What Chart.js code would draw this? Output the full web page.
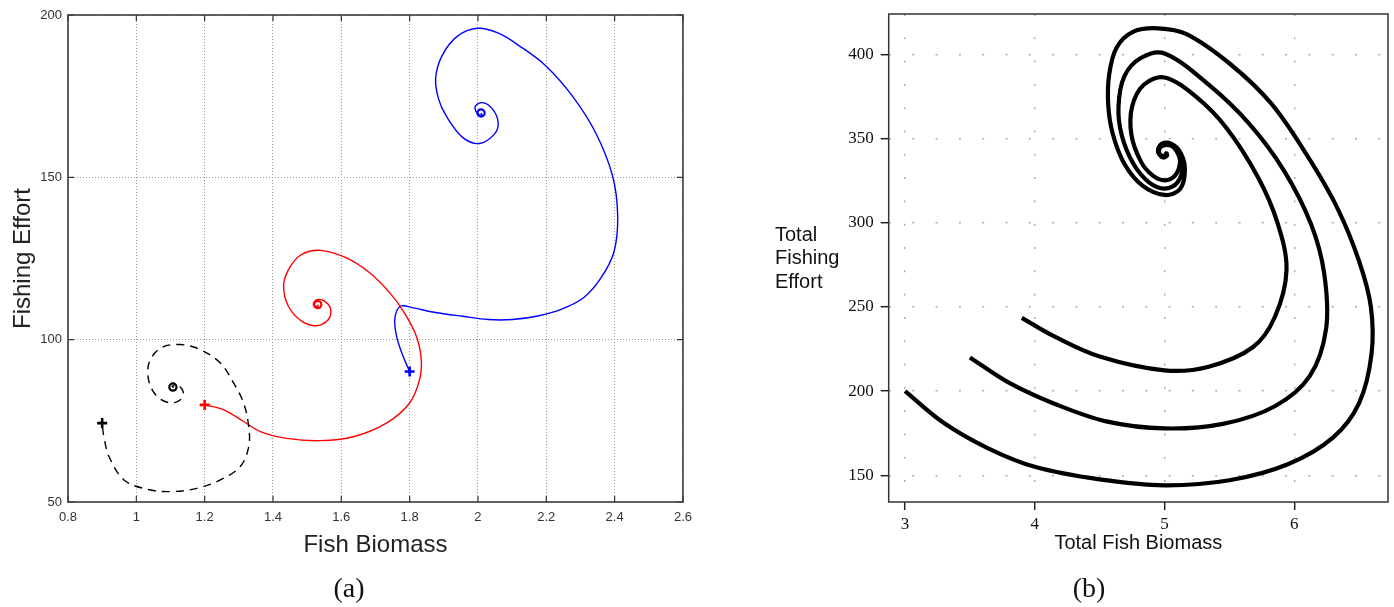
<!DOCTYPE html>
<html>
<head>
<meta charset="utf-8">
<script src="https://cdn.jsdelivr.net/npm/chart.js@4"></script>
<style>
  body { margin: 0; background: #fff; width: 1394px; height: 607px; position: relative; overflow: hidden; }
  .panel { position: absolute; top: 0; height: 607px; }
  #panelA { left: 0; width: 700px; }
  #panelB { left: 700px; width: 694px; }
  .caption { position: absolute; top: 572px; line-height: 32px; font-family: 'Liberation Serif', serif; font-size: 28px; color: #111; transform: translateX(-50%); }
  #yTitleB { position: absolute; left: 775px; top: 223px; font-family: 'Liberation Sans', Arial, sans-serif; font-size: 20px; line-height: 23.3px; color: #111; }
</style>
</head>
<body>
<div class="panel" id="panelA"><canvas id="chartA" width="700" height="607"></canvas></div>
<div class="panel" id="panelB"><canvas id="chartB" width="694" height="607"></canvas></div>
<div class="caption" style="left:349px">(a)</div>
<div class="caption" style="left:1089px">(b)</div>
<div id="yTitleB">Total<br>Fishing<br>Effort</div>
<script>
// --- DADOS: painel (a) ---
const xTicksA = [0.8, 1, 1.2, 1.4, 1.6, 1.8, 2, 2.2, 2.4, 2.6];
const yTicksA = [50, 100, 150, 200];

const blueTraj = [[1.8,90.2],[1.781,94.8],[1.763,100.5],[1.756,105.5],[1.762,108.8],[1.776,110.4],[1.81,109.8],[1.88,108.3],[1.955,107.2],[2.03,106.2],[2.101,106.2],[2.175,107.3],[2.247,109.5],[2.31,113],[2.36,119],[2.398,127],[2.409,138],[2.394,150.4],[2.344,163.8],[2.276,175.1],[2.198,184.4],[2.121,190.5],[2.06,194.4],[1.999,195.9],[1.94,193.5],[1.895,187.5],[1.876,180.5],[1.885,174],[1.907,168.9],[1.955,162.3],[2.004,160.4],[2.048,163.3],[2.059,166.9],[2.043,171],[2.014,173],[1.993,172],[1.996,170],[2.012,169],[2.009,169.8]];
const redTraj = [[1.202,79.9],[1.256,78.4],[1.314,74.8],[1.363,71.7],[1.44,69.6],[1.538,68.9],[1.635,70.1],[1.732,74.3],[1.8,80.5],[1.829,87.7],[1.834,93.8],[1.82,101],[1.785,108.2],[1.742,114.4],[1.683,120.6],[1.615,125.2],[1.538,127.5],[1.48,126],[1.445,121.5],[1.431,116.5],[1.445,110.3],[1.484,105.7],[1.528,104.3],[1.562,106.2],[1.569,109.3],[1.552,111.8],[1.528,112.3],[1.518,110.8],[1.531,110.2],[1.531,110.8]];
const blackTraj = [[0.901,73],[0.906,69.5],[0.92,64],[0.964,56.8],[1.032,53.9],[1.1,53.2],[1.178,54.2],[1.246,56.8],[1.304,60.9],[1.329,67],[1.329,73.2],[1.314,80.5],[1.285,86.6],[1.246,92.8],[1.188,96.9],[1.129,98.5],[1.071,97.4],[1.037,92.8],[1.037,87.1],[1.061,82.5],[1.1,80.5],[1.129,81.5],[1.137,84],[1.12,86.1],[1.105,85.6],[1.11,85.3]];

const startPoints = [[0.9,74.3],[1.2,79.9],[1.8,90.2]];
const endPoints = [[1.107,85.4],[1.531,110.8],[2.009,169.8]];
const markerColors = ['#000000', '#ff0000', '#0000ff'];

// --- DADOS: painel (b) ---
const xTicksB = [3, 4, 5, 6];
const yTicksB = [150, 200, 250, 300, 350, 400];

const trajOuter = [[3.0,200],[3.3,181],[3.64,166],[4.0,155],[4.5,147.5],[5.0,144],[5.5,147],[5.95,156.5],[6.3,172.5],[6.5,193],[6.595,222],[6.59,250],[6.5,277],[6.33,309],[6.09,341],[5.82,371],[5.51,394],[5.17,412],[4.95,415.5],[4.76,413.5],[4.63,404],[4.573,388],[4.566,370],[4.6,353],[4.69,335],[4.83,322],[5.0,316.5],[5.12,320],[5.157,332],[5.12,342],[5.05,347],[4.98,347],[4.95,343],[4.98,339],[5.02,340],[5.01,342]];
const trajMiddle = [[3.5,220],[3.8,205],[4.15,192.5],[4.55,182],[5.0,177.8],[5.45,180.5],[5.85,191],[6.12,209],[6.245,237],[6.23,270],[6.13,299],[5.92,331],[5.65,359],[5.34,382],[5.0,400.5],[4.82,398],[4.69,387],[4.645,369],[4.67,352],[4.76,335],[4.88,324],[5.0,320.3],[5.1,324],[5.139,334],[5.1,342],[5.04,346],[4.97,345],[4.96,341],[5.0,339],[5.02,342]];
const trajInner = [[3.9,243.5],[4.15,232.5],[4.5,220.5],[5.0,212.3],[5.34,214.5],[5.68,226],[5.85,244],[5.94,272],[5.87,300],[5.72,327],[5.48,356],[5.24,375],[5.0,386.3],[4.84,382],[4.75,369],[4.745,352],[4.82,336],[4.91,328],[5.0,325.2],[5.08,328],[5.119,336],[5.09,343],[5.03,347],[4.97,346],[4.95,342],[4.99,339.5],[5.02,341.5]];

const toXY = arr => arr.map(p => ({ x: p[0], y: p[1] }));
const setTicks = list => scale => { scale.ticks = list.map(v => ({ value: v })); };

Chart.defaults.animation = false;
Chart.defaults.devicePixelRatio = 1;

// --- PLUGINS: moldura ---
const matlabFrame = {
    id: 'matlabFrame',
    afterDraw(chart) {
        const { ctx, chartArea: a, scales: { x, y } } = chart;
        ctx.save();
        ctx.setLineDash([]);
        ctx.strokeStyle = '#333';
        ctx.lineWidth = 1.2;
        ctx.beginPath();
        x.ticks.forEach(t => {
            const px = x.getPixelForValue(t.value);
            ctx.moveTo(px, a.bottom); ctx.lineTo(px, a.bottom - 6);
            ctx.moveTo(px, a.top); ctx.lineTo(px, a.top + 6);
        });
        y.ticks.forEach(t => {
            const py = y.getPixelForValue(t.value);
            ctx.moveTo(a.left, py); ctx.lineTo(a.left + 6, py);
            ctx.moveTo(a.right, py); ctx.lineTo(a.right - 6, py);
        });
        ctx.stroke();
        ctx.lineWidth = 1.6;
        ctx.strokeStyle = '#3c3c3c';
        ctx.strokeRect(a.left, a.top, a.width, a.height);
        ctx.restore();
    }
};

const boxFrame = {
    id: 'boxFrame',
    afterDraw(chart) {
        const { ctx, chartArea: a } = chart;
        ctx.save();
        ctx.setLineDash([]);
        ctx.strokeStyle = '#333';
        ctx.lineWidth = 1.5;
        ctx.strokeRect(a.left, a.top, a.width, a.height);
        ctx.restore();
    }
};

// --- GRÁFICO (a) ---
const curveA = (data, color, dash) => ({
    data: toXY(data), showLine: true, borderColor: color, borderWidth: 1.4,
    borderDash: dash || [], tension: 0.35, pointRadius: 0, fill: false
});

new Chart(document.getElementById('chartA'), {
    type: 'scatter',
    data: {
        datasets: [
            curveA(blackTraj, '#000', [8, 6]),
            curveA(redTraj, '#ff0000'),
            curveA(blueTraj, '#0000ff'),
            {
                data: toXY(startPoints), pointStyle: 'cross', pointRadius: 5, borderWidth: 2.6,
                borderColor: markerColors, backgroundColor: markerColors
            },
            {
                data: toXY(endPoints), pointStyle: 'circle', pointRadius: 3.6, borderWidth: 2.2,
                borderColor: markerColors, backgroundColor: '#fff'
            }
        ]
    },
    options: {
        responsive: false,
        layout: { padding: { top: 15, right: 16, left: 0, bottom: 0 } },
        plugins: { legend: { display: false }, tooltip: { enabled: false } },
        scales: {
            x: {
                min: 0.8, max: 2.6,
                afterBuildTicks: setTicks(xTicksA),
                afterFit: s => { s.height = 105; },
                grid: { color: '#9a9a9a', drawTicks: false, lineWidth: 1 },
                border: { display: false, dash: [1, 2] },
                ticks: {
                    padding: 8, color: '#333', font: { family: 'Liberation Sans', size: 13 },
                    callback: v => String(Math.round(v * 10) / 10)
                },
                title: {
                    display: true, text: 'Fish Biomass', color: '#222',
                    font: { family: 'Liberation Sans', size: 24 }, padding: { top: 0, bottom: 47 }
                }
            },
            y: {
                min: 50, max: 200,
                afterBuildTicks: setTicks(yTicksA),
                afterFit: s => { s.width = 68; },
                grid: { color: '#9a9a9a', drawTicks: false, lineWidth: 1 },
                border: { display: false, dash: [1, 2] },
                ticks: { padding: 6, color: '#333', font: { family: 'Liberation Sans', size: 13 } },
                title: {
                    display: true, text: 'Fishing Effort', color: '#222',
                    font: { family: 'Liberation Sans', size: 24 }, padding: { top: 9, bottom: 0 }
                }
            }
        }
    },
    plugins: [matlabFrame]
});

// --- GRÁFICO (b) ---
const curveB = data => ({
    data: toXY(data), showLine: true, borderColor: '#000', borderWidth: 4.2,
    tension: 0.35, pointRadius: 0, fill: false
});

new Chart(document.getElementById('chartB'), {
    type: 'scatter',
    data: { datasets: [curveB(trajOuter), curveB(trajMiddle), curveB(trajInner)] },
    options: {
        responsive: false,
        layout: { padding: { top: 14, right: 6, left: 0, bottom: 0 } },
        plugins: { legend: { display: false }, tooltip: { enabled: false } },
        scales: {
            x: {
                min: 2.874, max: 6.722,
                afterBuildTicks: setTicks(xTicksB),
                afterFit: s => { s.height = 105; s.paddingLeft = 0; s.paddingRight = 0; },
                grid: { color: '#aaaaaa', lineWidth: 1.4, tickLength: 8, tickColor: '#222', tickWidth: 1.5 },
                border: { display: false, dash: [2, 21.3] },
                ticks: { padding: 4, color: '#111', font: { family: 'Liberation Serif', size: 17 } },
                title: {
                    display: true, text: 'Total Fish Biomass', color: '#111',
                    font: { family: 'Liberation Sans', size: 20 }, padding: { top: 0, bottom: 52 }
                }
            },
            y: {
                min: 134.1, max: 424,
                afterBuildTicks: setTicks(yTicksB),
                afterFit: s => { s.width = 188.7; s.paddingTop = 0; s.paddingBottom = 0; },
                grid: { color: '#aaaaaa', lineWidth: 1.4, tickLength: 8, tickColor: '#222', tickWidth: 1.5 },
                border: { display: false, dash: [2, 21.3] },
                ticks: { padding: 7, color: '#111', font: { family: 'Liberation Serif', size: 17 } }
            }
        }
    },
    plugins: [boxFrame]
});
</script>
</body>
</html>
